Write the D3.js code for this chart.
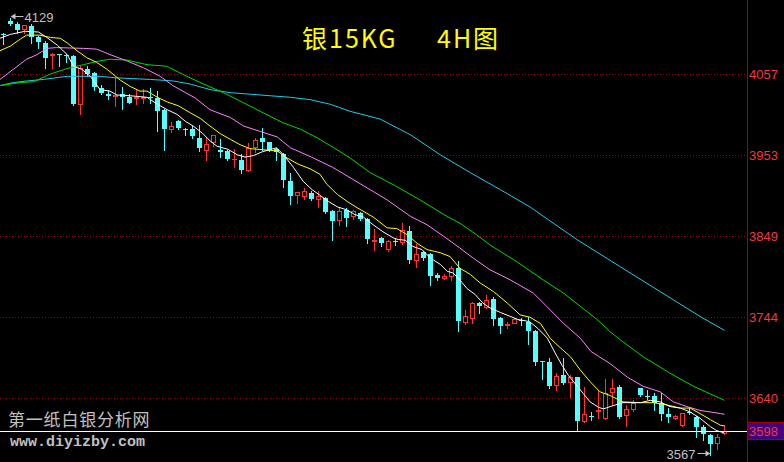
<!DOCTYPE html>
<html><head><meta charset="utf-8">
<script src="https://cdn.jsdelivr.net/npm/d3@7/dist/d3.min.js"></script>
<style>html,body{margin:0;padding:0;background:#000;overflow:hidden}svg{display:block}</style>
</head><body><svg id="c" width="784" height="462"></svg>
<script>
// ---------- DATA ----------
const titleLeft = "银15KG";
const titleRight = "4H图";
const siteName = "第一纸白银分析网";
const siteUrl = "www.diyizby.com";
const tickValues = [4057, 3953, 3849, 3744, 3640];
const lastPrice = 3598;
const highMark = {idx: 1, value: 4129};
const lowMark = {idx: 101, value: 3567};

const candleOpen = [4108.5,4125.3,4121.1,4115.5,4118.9,4105.2,4097.4,4081.7,4082.3,4081.1,4080.4,4017.8,4063.9,4057.8,4039.4,4031.7,4029.1,4030.7,4027.3,4026.2,4026.2,4027.1,4026.5,4010.1,3985.6,3996.3,3986.2,3985.6,3974.9,3959.8,3969.2,3959.8,3957.6,3947.2,3946.9,3933.1,3963.3,3974.0,3969.2,3960.7,3953.4,3918.9,3901.7,3900.5,3903.9,3896.2,3897.5,3880.2,3868.6,3881.5,3873.8,3878.2,3870.4,3842.4,3845.9,3831.7,3842.0,3840.2,3854.4,3817.0,3827.3,3825.6,3798.6,3794.3,3797.3,3807.2,3738.3,3742.7,3762.0,3757.7,3767.6,3742.7,3734.4,3737.0,3740.5,3738.3,3726.7,3687.0,3686.7,3656.7,3669.6,3660.5,3666.6,3610.6,3617.3,3623.1,3613.7,3648.0,3653.7,3618.0,3625.3,3652.4,3643.1,3642.5,3633.0,3619.2,3613.7,3605.1,3621.4,3615.8,3602.1,3592.2,3582.2,3595.0];
const candleHigh = [4110.3,4129.0,4124.0,4120.1,4121.1,4105.6,4099.5,4083.6,4083.3,4082.3,4081.1,4067.3,4067.3,4059.1,4042.4,4036.3,4051.4,4040.7,4030.7,4038.1,4037.2,4039.4,4035.0,4011.4,3995.0,3997.6,3986.9,3989.9,3990.8,3974.9,3979.1,3972.7,3959.8,3961.1,3954.6,3968.8,3974.9,3987.8,3970.1,3962.0,3955.5,3929.7,3904.7,3910.4,3906.0,3906.0,3899.2,3882.4,3884.6,3884.6,3882.4,3879.8,3871.7,3857.5,3847.2,3843.7,3844.6,3865.2,3861.8,3838.5,3828.6,3827.0,3801.5,3799.9,3809.3,3815.7,3753.4,3764.1,3763.7,3772.7,3770.2,3744.4,3738.3,3742.4,3742.7,3744.8,3727.6,3688.0,3691.1,3671.7,3691.1,3669.6,3667.4,3654.5,3622.2,3650.2,3664.0,3664.0,3656.7,3630.9,3637.3,3652.8,3650.2,3645.9,3645.9,3626.6,3618.0,3620.5,3626.6,3616.7,3605.1,3593.4,3593.4,3605.1];
const candleLow = [4095.3,4119.8,4110.3,4109.4,4097.4,4091.0,4065.2,4065.2,4067.3,4072.0,4017.2,4005.0,4054.4,4036.3,4030.7,4024.3,4015.7,4011.4,4019.1,4017.8,4019.1,4020.0,3983.4,3958.9,3982.6,3985.6,3979.1,3974.9,3957.6,3946.9,3964.1,3950.4,3946.9,3937.9,3929.7,3931.8,3956.3,3959.8,3957.6,3946.0,3911.7,3890.1,3891.0,3896.2,3895.3,3885.9,3878.2,3842.8,3863.1,3860.9,3870.4,3869.5,3839.4,3829.9,3835.1,3828.6,3837.2,3838.5,3813.6,3808.5,3817.9,3785.7,3792.1,3793.0,3792.1,3726.7,3735.3,3736.2,3750.0,3755.6,3734.1,3724.1,3729.8,3736.6,3734.1,3709.5,3682.4,3664.0,3652.4,3650.2,3658.6,3641.6,3597.7,3609.3,3611.5,3614.1,3612.4,3630.9,3613.7,3603.8,3623.5,3643.1,3638.2,3624.4,3611.5,3609.3,3612.8,3603.8,3619.2,3589.2,3585.7,3567.0,3575.0,3594.0];
const candleClose = [4107.5,4121.1,4113.7,4120.1,4105.2,4098.7,4077.2,4082.3,4081.4,4079.8,4017.8,4065.2,4056.6,4040.7,4032.0,4028.6,4030.4,4027.3,4020.0,4027.1,4027.1,4026.2,4009.2,3986.5,3989.9,3986.9,3984.3,3977.0,3962.0,3967.2,3979.1,3956.3,3948.2,3947.8,3933.1,3962.0,3971.8,3969.2,3958.9,3956.3,3920.2,3899.6,3904.7,3906.0,3896.6,3900.5,3878.9,3867.3,3880.2,3871.7,3880.2,3870.4,3844.6,3843.3,3839.4,3841.5,3841.1,3856.6,3817.9,3825.6,3820.1,3796.4,3794.3,3797.3,3807.2,3739.6,3745.7,3762.0,3758.6,3766.3,3741.8,3733.2,3735.3,3741.4,3739.6,3726.7,3686.7,3686.0,3655.4,3668.3,3659.6,3666.9,3610.6,3619.2,3616.0,3624.4,3646.0,3652.4,3615.8,3625.3,3633.0,3643.8,3641.8,3633.0,3619.2,3615.0,3616.7,3620.1,3620.5,3602.1,3594.3,3580.5,3590.0,3598.0];

// moving averages: [candle index, value]
const maWhite = [[-0.5,4103],[1,4108],[3.1,4112],[5,4111],[6.2,4104],[7.7,4094],[9.1,4082],[10,4067],[11.2,4063],[12.4,4054],[13.8,4037],[15.2,4035],[16.2,4030],[18.1,4029],[20.5,4027],[22,4018],[23.4,4011],[24.8,4005],[26,3996],[27.1,3990],[28.4,3981],[29.5,3971],[30.5,3964],[32.1,3960],[33.4,3953],[34.5,3950],[35.7,3952],[37,3957],[39,3962],[40,3953],[41.4,3937],[42.8,3919],[44.1,3908],[45.2,3901],[46.4,3893],[47.7,3886],[49.1,3882],[50.2,3876],[51.4,3873],[52.8,3863],[54.2,3854],[55.7,3846],[56.4,3844],[57.4,3843],[58.5,3835],[59.8,3831],[61,3820],[62.4,3812],[63.4,3803],[64.2,3801],[65.2,3792],[66.2,3781],[67.4,3773],[68.5,3762],[69.5,3756],[71,3750],[72.4,3745],[73.5,3741],[74.2,3740],[75.2,3738],[76.4,3729],[77.7,3717],[78.8,3698],[79.8,3682],[80.7,3669],[81.9,3656],[82.8,3646],[83.8,3635],[85,3628],[85.7,3626],[86.7,3629],[87.4,3631],[88.5,3634],[91,3634],[92.4,3637],[93.8,3635],[95.2,3629],[96.7,3627],[98.1,3622],[99.5,3614],[101,3603],[101.9,3598],[103,3595]];
const maYellow = [[-0.5,4087],[1,4093],[2.4,4102],[3.3,4107],[5.2,4107],[6.7,4104],[8.1,4103],[9.1,4097],[10.5,4087],[11.9,4078],[13.3,4072],[14.8,4063],[16.7,4049],[18.1,4041],[19.5,4035],[20.5,4035],[22,4027],[23.4,4021],[25,4016],[26.7,4007],[28.1,4000],[29.5,3990],[31,3980],[32.4,3973],[33.8,3966],[35.2,3961],[37.7,3959],[39.1,3958],[40.5,3949],[42.1,3941],[43.8,3935],[45.2,3928],[46.2,3915],[47.7,3902],[49.1,3893],[50.5,3885],[52.8,3873],[54.8,3859],[56.2,3858],[57.7,3850],[59.1,3839],[60.5,3831],[62.4,3827],[63.8,3822],[65.2,3807],[66.7,3799],[68.1,3788],[70,3777],[72,3762],[73.8,3747],[75.2,3744],[76.7,3736],[78.1,3717],[79.5,3705],[81,3693],[82.4,3676],[83.8,3661],[85.2,3648],[86.7,3643],[88.5,3635],[91,3634],[92.8,3634],[94.8,3631],[96.7,3627],[98.1,3627],[99.5,3620],[101,3612],[102.4,3605],[103,3604]];
const maMagenta = [[-0.5,4050],[1.4,4063],[3.3,4076],[4.8,4082],[6.2,4090],[7.6,4091],[11.4,4090],[13.3,4089],[15.2,4082],[17.6,4074],[20,4065],[22.4,4054],[24.2,4042],[27.4,4026],[29.5,4011],[32.4,4001],[34.3,3990],[36.7,3983],[39.1,3976],[41,3962],[44,3950],[47,3937],[49.8,3922],[52.4,3908],[54.8,3895],[58.1,3874],[60.5,3863],[62.9,3848],[65.2,3833],[67.1,3820],[69.5,3805],[72.4,3792],[75.7,3775],[77.6,3758],[80,3736],[82.4,3717],[83.9,3700],[86.7,3684],[89.1,3667],[91.4,3655],[93.8,3648],[95.7,3635],[97.6,3629],[99.5,3624],[102.4,3620],[103,3619]];
const maGreen = [[-0.5,4042],[2.4,4046],[4.3,4047],[6.7,4057],[9.1,4064],[11.4,4069],[13.8,4074],[15.2,4076],[17.6,4075],[20.5,4069],[23.3,4067],[26.2,4054],[28.6,4044],[31.4,4033],[34.3,4020],[37.1,4007],[40,3994],[42.4,3986],[44.8,3975],[47.2,3962],[49.5,3949],[52.4,3930],[56,3913],[59.5,3895],[63.3,3874],[65.2,3865],[67.6,3850],[69.5,3837],[73.4,3815],[77.1,3792],[80,3775],[82.4,3758],[84.8,3741],[86.7,3725],[88.1,3715],[91.4,3693],[95.2,3672],[98.6,3655],[103,3637]];
const maCyan = [[-0.5,4042],[1.4,4046],[3.3,4048],[5.7,4050],[9.1,4054],[13.8,4054],[16.2,4052],[21,4050],[24.3,4048],[26.7,4044],[29.5,4037],[32.4,4033],[35.2,4031],[38.1,4029],[41,4027],[43.8,4024],[46.7,4018],[49.5,4009],[53.8,3999],[58.1,3979],[62.4,3953],[66.7,3930],[71,3908],[75.2,3886],[79.5,3859],[81.9,3844],[88.1,3809],[93.8,3777],[99.5,3745],[103,3727]];

// ---------- DRAW ----------
const W = 784, H = 462, axisX = 747;
const svg = d3.select("#c");
svg.append("rect").attr("width", W).attr("height", H).attr("fill", "#000");

const x = d3.scaleLinear().domain([0, 103]).range([3, 724]);
const y = d3.scaleLinear().domain([3640, 4057]).range([398, 74]);

svg.append("defs").append("clipPath").attr("id", "plot")
  .append("rect").attr("x", 0).attr("y", 0).attr("width", axisX).attr("height", H);

// grid
const grid = svg.append("g");
tickValues.forEach(v => {
  const gy = Math.round(y(v)) + 0.5;
  grid.append("line").attr("x1", 0).attr("x2", axisX).attr("y1", gy).attr("y2", gy)
    .attr("stroke", "#9a0000").attr("stroke-width", 1).attr("stroke-dasharray", "1,2")
    .attr("shape-rendering", "crispEdges");
});

// candles
const UP = "#ff3232", DOWN = "#54ffff";
const cg = svg.append("g").attr("clip-path", "url(#plot)").attr("shape-rendering", "crispEdges");
candleOpen.forEach((o, i) => {
  const h = candleHigh[i], l = candleLow[i], c = candleClose[i];
  const up = c >= o;
  const cx = x(i);
  const col = up ? UP : DOWN;
  const yt = Math.round(y(Math.max(o, c))), yb = Math.round(y(Math.min(o, c)));
  cg.append("line").attr("x1", cx + 0.5).attr("x2", cx + 0.5)
    .attr("y1", Math.round(y(h))).attr("y2", Math.round(y(l)) + 1)
    .attr("stroke", col).attr("stroke-width", 1);
  if (up) {
    if (yb - yt < 1) {
      cg.append("line").attr("x1", cx - 2).attr("x2", cx + 3).attr("y1", yt + 0.5).attr("y2", yt + 0.5)
        .attr("stroke", col);
    } else {
      cg.append("rect").attr("x", cx - 1.5).attr("y", yt + 0.5).attr("width", 4).attr("height", yb - yt)
        .attr("fill", "#000").attr("stroke", col).attr("stroke-width", 1);
    }
  } else {
    cg.append("rect").attr("x", cx - 2).attr("y", yt).attr("width", 5).attr("height", Math.max(1, yb - yt))
      .attr("fill", col);
  }
});

// last price line
const lp = Math.round(y(lastPrice)) + 0.5;
svg.append("line").attr("x1", 0).attr("x2", axisX).attr("y1", lp).attr("y2", lp)
  .attr("stroke", "#ffffff").attr("stroke-width", 1).attr("shape-rendering", "crispEdges");

// moving averages
const line = d3.line().x(d => x(d[0]) + 0.5).y(d => y(d[1]));
const mg = svg.append("g").attr("clip-path", "url(#plot)").attr("fill", "none").attr("stroke-width", 1);
[[maCyan, "#1ecbe8"], [maGreen, "#00d800"], [maMagenta, "#ff80ff"], [maYellow, "#ffff00"], [maWhite, "#ffffff"]]
  .forEach(([data, col]) => {
    mg.append("path").datum(data).attr("d", line).attr("stroke", col);
  });

// high / low annotations
const grey = "#c0c0c0";
const hx = x(highMark.idx) + 0.5, hy = Math.round(y(highMark.value)) - 1.5;
svg.append("line").attr("x1", hx + 3).attr("x2", hx + 13).attr("y1", hy).attr("y2", hy).attr("stroke", grey);
svg.append("path").attr("d", `M${hx},${hy} L${hx + 5},${hy - 3} L${hx + 5},${hy + 3} Z`).attr("fill", grey);
svg.append("text").attr("x", hx + 14).attr("y", hy + 5).attr("fill", grey)
  .attr("font-family", "Liberation Sans, Arial, sans-serif").attr("font-size", 13).text(highMark.value);

const lx = x(lowMark.idx) + 0.5, ly = Math.round(y(lowMark.value)) - 1.5;
svg.append("line").attr("x1", lx - 13).attr("x2", lx - 3).attr("y1", ly).attr("y2", ly).attr("stroke", grey);
svg.append("path").attr("d", `M${lx},${ly} L${lx - 5},${ly - 3} L${lx - 5},${ly + 3} Z`).attr("fill", grey);
svg.append("text").attr("x", lx - 15).attr("y", ly + 5).attr("text-anchor", "end").attr("fill", grey)
  .attr("font-family", "Liberation Sans, Arial, sans-serif").attr("font-size", 13).text(lowMark.value);

// title
const tfont = "'Noto Sans CJK SC', 'Noto Sans', sans-serif";
svg.append("text").attr("x", 302).attr("y", 48).attr("fill", "#ffff00").attr("font-family", tfont)
  .attr("font-size", 25).attr("letter-spacing", 2).text(titleLeft);
svg.append("text").attr("x", 437).attr("y", 48).attr("fill", "#ffff00").attr("font-family", tfont)
  .attr("font-size", 25).attr("letter-spacing", 2).text(titleRight);

// watermark
svg.append("text").attr("x", 8).attr("y", 426).attr("fill", grey).attr("font-family", tfont)
  .attr("font-size", 17).attr("letter-spacing", 0.8).text(siteName);
svg.append("text").attr("x", 10).attr("y", 446).attr("fill", grey).attr("font-family", "'Liberation Mono', monospace")
  .attr("font-weight", "bold").attr("font-size", 15).text(siteUrl);

// right axis
svg.append("line").attr("x1", axisX + 0.5).attr("x2", axisX + 0.5).attr("y1", 0).attr("y2", H)
  .attr("stroke", "#a00000").attr("shape-rendering", "crispEdges");
const ag = svg.append("g").attr("font-family", "Liberation Sans, Arial, sans-serif").attr("font-size", 13).attr("fill", "#f03a3a");
tickValues.forEach(v => {
  ag.append("text").attr("x", 749).attr("y", Math.round(y(v)) + 5).text(v);
});
const by = Math.round(y(lastPrice));
svg.append("rect").attr("x", axisX + 1).attr("y", by - 8.5).attr("width", W - axisX - 1).attr("height", 17)
  .attr("fill", "#400080").attr("stroke", "#a00000").attr("stroke-width", 1);
svg.append("text").attr("x", 749).attr("y", by + 5).attr("fill", "#f03a3a")
  .attr("font-family", "Liberation Sans, Arial, sans-serif").attr("font-size", 13).text(lastPrice);
</script>
</body></html>
